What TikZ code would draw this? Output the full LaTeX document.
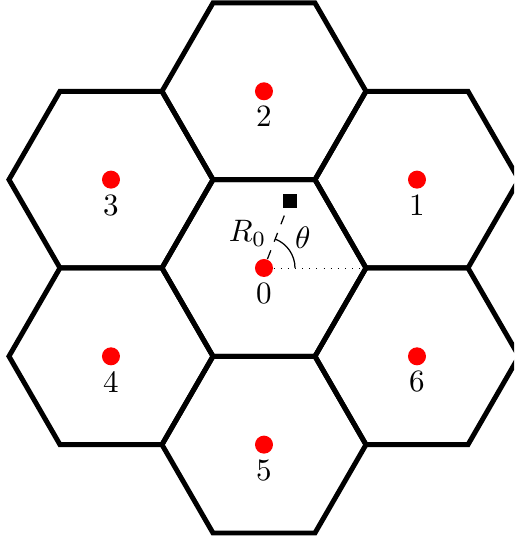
\documentclass[tikz,border=0pt]{standalone}
\usepackage{amsmath,amssymb}
\usepackage{tikz}
\usetikzlibrary{positioning,shapes.geometric,calc}

\begin{document}
\begin{tikzpicture}[
 x=1.155cm,y=1.155cm,
 cell/.style={regular polygon,regular polygon sides=6,draw,ultra thick,
   minimum size=2.31cm,inner sep=0pt,outer sep=0pt},
 bs/.style={circle,fill=red,minimum size=5.8pt,inner sep=0pt},
 num/.style={inner sep=3pt},
 user/.style={rectangle,fill=black,minimum size=4.5pt,inner sep=0pt},
 node distance=0pt]
\useasboundingbox (-2.588,-2.657) rectangle (2.451,2.627);
\clip (-2.588,-2.657) rectangle (2.451,2.627);
% cells
\node[cell] (h0) at (0,0) {};
\foreach \i/\a in {1/30,2/90,3/150,4/210,5/270,6/330}
  \node[cell] (h\i) at (\a:1.732) {};
% base stations
\foreach \i in {0,...,6}{
  \node[bs] (b\i) at (h\i) {};
  \node[num,below=-1.5pt of b\i] (n\i) {\i};
}
\node[user] (ue) at (68.8:0.706) {};
\draw[dashed] (b0)--node[left]{$R_0$}(ue);
\draw[dotted,line width=0.3pt] (b0)--(h0.east);
\draw ($(b0)+(0.304,0)$) arc[start angle=0,end angle=68.8,radius=0.304];
\node (th) at (0.38,0.30) {$\theta$};
\end{tikzpicture}
\end{document}
